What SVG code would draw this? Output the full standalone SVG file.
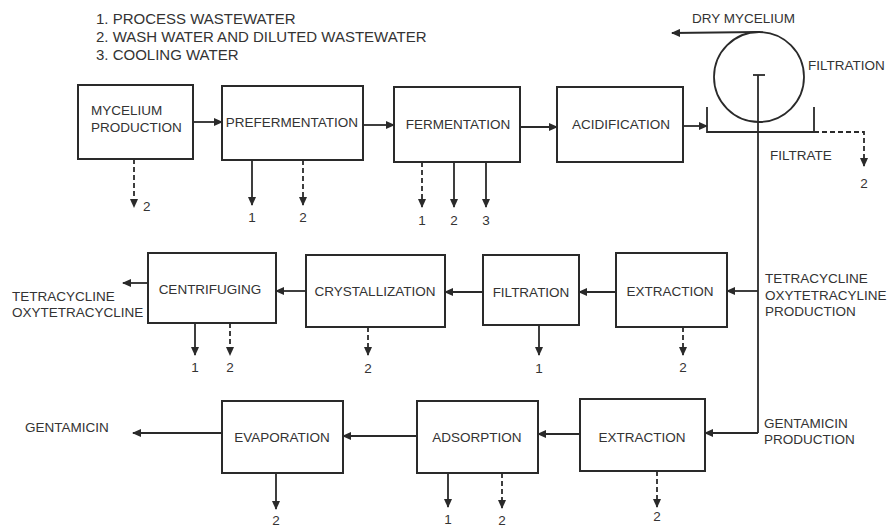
<svg xmlns="http://www.w3.org/2000/svg" width="887" height="529" viewBox="0 0 887 529">
<style>
.bg{fill:#ffffff}
.box{fill:#ffffff;stroke:#2a2a2a;stroke-width:2}
.t{font-family:"Liberation Sans",Arial,sans-serif;font-size:13.5px;fill:#333333}
.c{text-anchor:middle}
.lg{font-family:"Liberation Sans",Arial,sans-serif;font-size:15px;fill:#333333}
.ln{fill:none;stroke:#2a2a2a;stroke-width:1.8}
.ar{fill:none;stroke:#2a2a2a;stroke-width:1.8;marker-end:url(#ah)}
.da{fill:none;stroke:#2a2a2a;stroke-width:1.8;stroke-dasharray:5,3;marker-end:url(#ah)}
</style>
<defs>
<marker id="ah" markerUnits="userSpaceOnUse" markerWidth="9" markerHeight="8" refX="8" refY="4" orient="auto">
<path d="M0,0 L9,4 L0,8 z" fill="#2a2a2a"/>
</marker>
</defs>
<rect class="bg" x="0" y="0" width="887" height="529"/>

<g id="legend">
<text class="lg" x="96" y="24">1. PROCESS WASTEWATER</text>
<text class="lg" x="96" y="42">2. WASH WATER AND DILUTED WASTEWATER</text>
<text class="lg" x="96" y="60">3. COOLING WATER</text>
</g>

<g id="mycelium-production">
<rect class="box" x="78" y="85" width="115" height="74"/>
<text class="t" x="91" y="115">MYCELIUM</text>
<text class="t" x="91" y="132">PRODUCTION</text>
</g>
<g id="prefermentation">
<rect class="box" x="222" y="86" width="141" height="74"/>
<text class="t c" x="292" y="127">PREFERMENTATION</text>
</g>
<g id="fermentation">
<rect class="box" x="394" y="87" width="126" height="75"/>
<text class="t c" x="458" y="129">FERMENTATION</text>
</g>
<g id="acidification">
<rect class="box" x="557" y="87" width="126" height="75"/>
<text class="t c" x="621" y="129">ACIDIFICATION</text>
</g>
<g id="filtration-drum">
<circle cx="759" cy="77" r="45" fill="none" stroke="#2a2a2a" stroke-width="1.8"/>
<path class="ln" d="M707,107 V132 H814 V107"/>
<path class="ln" d="M753,75 H765"/>
<text class="t" x="808" y="70">FILTRATION</text>
<text class="t" x="692" y="23">DRY MYCELIUM</text>
<text class="t" x="770" y="160">FILTRATE</text>
</g>

<g id="centrifuging">
<rect class="box" x="148" y="253" width="128" height="70"/>
<text class="t c" x="210" y="294">CENTRIFUGING</text>
</g>
<g id="crystallization">
<rect class="box" x="306" y="255" width="139" height="72"/>
<text class="t c" x="375" y="296">CRYSTALLIZATION</text>
</g>
<g id="filtration">
<rect class="box" x="483" y="255" width="96" height="70"/>
<text class="t c" x="531" y="297">FILTRATION</text>
</g>
<g id="extraction-tc">
<rect class="box" x="616" y="253" width="111" height="74"/>
<text class="t c" x="670" y="296">EXTRACTION</text>
</g>
<g id="label-tetracycline-out">
<text class="t" x="12" y="301">TETRACYCLINE</text>
<text class="t" x="12" y="317">OXYTETRACYCLINE</text>
</g>
<g id="label-tc-production">
<text class="t" x="765" y="283">TETRACYCLINE</text>
<text class="t" x="765" y="300">OXYTETRACYLINE</text>
<text class="t" x="765" y="316">PRODUCTION</text>
</g>

<g id="evaporation">
<rect class="box" x="222" y="401" width="121" height="72"/>
<text class="t c" x="282" y="442">EVAPORATION</text>
</g>
<g id="adsorption">
<rect class="box" x="417" y="401" width="121" height="72"/>
<text class="t c" x="477" y="442">ADSORPTION</text>
</g>
<g id="extraction-gm">
<rect class="box" x="580" y="399" width="125" height="72"/>
<text class="t c" x="642" y="442">EXTRACTION</text>
</g>
<g id="label-gentamicin-out">
<text class="t" x="25" y="432">GENTAMICIN</text>
</g>
<g id="label-gm-production">
<text class="t" x="764" y="428">GENTAMICIN</text>
<text class="t" x="764" y="444">PRODUCTION</text>
</g>

<g id="connectors">
<path class="ar" d="M193,122 H222"/>
<path class="ar" d="M363,125 H394"/>
<path class="ar" d="M520,127 H557"/>
<path class="ar" d="M683,126 H707"/>
<path class="ar" d="M759,32 L672,33"/>
<path class="da" d="M814,132 H864 V166"/>
<path class="ln" d="M758,75 V433"/>
<path class="ar" d="M758,291 H727"/>
<path class="ar" d="M616,292 H579"/>
<path class="ar" d="M483,292 H445"/>
<path class="ar" d="M306,291 H276"/>
<path class="ar" d="M148,283 H123"/>
<path class="ar" d="M758,433 H705"/>
<path class="ar" d="M580,434 H538"/>
<path class="ar" d="M417,436 H343"/>
<path class="ar" d="M222,433 H133"/>

<path class="da" d="M134,159 V207"/>
<path class="ar" d="M252,160 V205"/>
<path class="da" d="M303,160 V205"/>
<path class="da" d="M422,162 V207"/>
<path class="ar" d="M454,162 V207"/>
<path class="ar" d="M486,162 V207"/>
<path class="ar" d="M195,323 V355"/>
<path class="da" d="M230,323 V355"/>
<path class="da" d="M368,327 V355"/>
<path class="ar" d="M539,325 V355"/>
<path class="da" d="M683,327 V355"/>
<path class="ar" d="M276,473 V509"/>
<path class="ar" d="M448,473 V507"/>
<path class="da" d="M502,473 V508"/>
<path class="da" d="M657,471 V507"/>
</g>

<g id="stream-numbers">
<text class="t" x="143" y="211">2</text>
<text class="t c" x="252" y="222">1</text>
<text class="t c" x="303" y="222">2</text>
<text class="t c" x="422" y="225">1</text>
<text class="t c" x="454" y="225">2</text>
<text class="t c" x="486" y="225">3</text>
<text class="t c" x="864" y="188">2</text>
<text class="t c" x="195" y="372">1</text>
<text class="t c" x="230" y="372">2</text>
<text class="t c" x="368" y="373">2</text>
<text class="t c" x="539" y="373">1</text>
<text class="t c" x="683" y="372">2</text>
<text class="t c" x="276" y="525">2</text>
<text class="t c" x="448" y="524">1</text>
<text class="t c" x="502" y="525">2</text>
<text class="t c" x="657" y="521">2</text>
</g>
</svg>
